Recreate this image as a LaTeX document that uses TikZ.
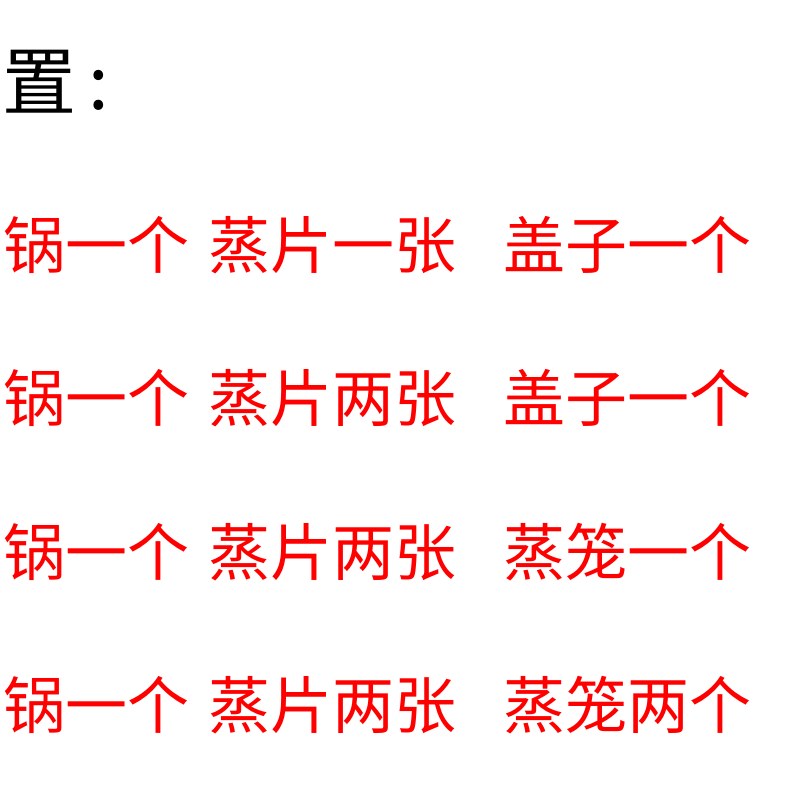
\documentclass[tikz,border=0pt]{standalone}
\usepackage{fontspec}
\newfontfamily\cjk{Noto Sans CJK SC}
\begin{document}
\begin{tikzpicture}[x=1pt,y=-1pt,
  red/.style={anchor=west,inner sep=0pt,text=red,font=\cjk\fontsize{62}{62}\selectfont},
  head/.style={anchor=west,inner sep=0pt,font=\cjk\fontsize{74}{74}\selectfont}]
\useasboundingbox (0,0) rectangle (800,800);
\node[head] (h) at (2,82) {置\,:};
\foreach \y/\a/\b/\c [count=\i] in {245/锅一个/蒸片一张/盖子一个,398/锅一个/蒸片两张/盖子一个,552/锅一个/蒸片两张/蒸笼一个,705/锅一个/蒸片两张/蒸笼两个}{
  \node[red] (a\i) at (3,\y) {\a};
  \node[red] (b\i) at (208,\y) {\b};
  \node[red] (c\i) at (503,\y) {\c};
}
\end{tikzpicture}
\end{document}
